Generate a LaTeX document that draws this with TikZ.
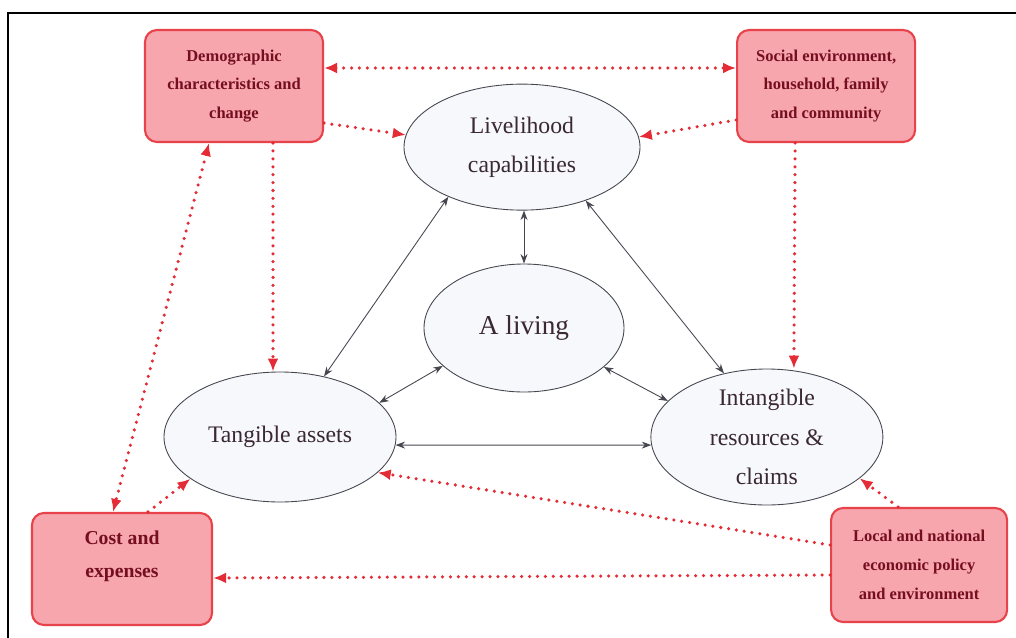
\documentclass[tikz,border=0pt]{standalone}
\usepackage{fontspec}
\setmainfont{Liberation Serif}
\usepackage{xcolor}
\usepackage{tikz}
\usetikzlibrary{shapes,arrows,positioning,calc,arrows.meta}
\definecolor{boxpink}{RGB}{246,166,172}
\definecolor{boxred}{RGB}{232,66,74}
\definecolor{dotred}{RGB}{228,44,54}
\definecolor{textred}{RGB}{118,14,34}
\definecolor{ellfill}{RGB}{246,248,251}
\definecolor{ellline}{RGB}{70,70,80}
\definecolor{elltext}{RGB}{58,40,50}

\begin{document}
\begin{tikzpicture}[auto, node distance=1.5cm,
        factor/.style={draw=boxred, fill=boxpink, line width=1.2pt, rounded corners=0.24cm, minimum width=3.56cm, minimum height=2.24cm, align=center, text=textred, font=\bfseries\fontsize{9.4}{16.4}\selectfont},
        asset/.style={ellipse, draw=ellline, fill=ellfill, line width=0.5pt, align=center, inner sep=0pt, text=elltext, font=\fontsize{13.5}{22.5}\selectfont},
        link/.style={<->, draw=ellline, line width=0.5pt},
        influence/.style={draw=dotred, line width=2pt, line cap=round, dash pattern=on 0pt off 4.5pt, >={Latex[length=2.6mm,width=2.2mm]}},
        >={Stealth[length=1.9mm,width=1.4mm]}
    ]
        \useasboundingbox (0,0) rectangle (20.32,-12.76);
        \draw[line width=1pt] (0.16,-12.76) |- (20.32,-0.26);

        \node [asset, minimum width=4cm, minimum height=2.56cm, font=\fontsize{15.5}{20}\selectfont] (living) at (10.48,-6.56) {A living};
        \node [asset, minimum width=4.72cm, minimum height=2.52cm, above=1.06cm of living, xshift=-0.04cm] (liveli) {Livelihood\\capabilities};
        \node [asset, minimum width=4.64cm, minimum height=2.6cm] (tangible) at (5.6,-8.74) {Tangible assets};
        \node [asset, minimum width=4.64cm, minimum height=2.72cm, inner ysep=-0.1cm, right=5.08cm of tangible] (intangible) {Intangible\\resources \&\\claims};

        \node [factor] (demog) at (4.68,-1.72) {Demographic\\characteristics and\\change};
        \node [factor, right=8.24cm of demog] (social) {Social environment,\\household, family\\and community};
        \node [factor, minimum width=3.6cm, font=\bfseries\fontsize{11.2}{19}\selectfont, text depth=0.6cm] (cost) at (2.44,-11.38) {Cost and\\expenses};
        \node [factor, minimum width=3.52cm, minimum height=2.28cm, right=12.34cm of cost, yshift=0.08cm] (local) {Local and national\\economic policy\\and environment};

        \draw [link] (liveli.214) -- (tangible.54);
        \draw [link] (living.north) -- (living.north |- liveli.south);
        \draw [link] (liveli.320) -- (intangible.124);
        \draw [link] (living.205) -- (tangible.19);
        \draw [link] (living.334) -- (intangible.160);
        \draw [link] (tangible.-4) -- (intangible.184);

        \draw [influence, <->] ([yshift=0.36cm]demog.east) -- ([yshift=0.36cm]social.west);
        \draw [influence, ->] ([yshift=-0.74cm]demog.east) -- (liveli.174);
        \draw [influence, ->] ([yshift=-0.68cm]social.west) -- (liveli.5);
        \draw [influence, ->] ([xshift=0.78cm]demog.south) -- ([xshift=-0.14cm]tangible.north);
        \draw [influence, ->] ([xshift=-0.62cm]social.south) -- ([xshift=0.54cm]intangible.north);
        \draw [influence, <->] ([xshift=-0.5cm]demog.south) -- ([xshift=-0.18cm]cost.north);
        \draw [influence, ->] ([xshift=0.52cm]cost.north) -- (tangible.205);
        \draw [influence, ->] ([yshift=0.4cm]local.west) -- (tangible.340);
        \draw [influence, ->] ([yshift=-0.2cm]local.west) -- ([yshift=-0.18cm]cost.east);
        \draw [influence, ->] ([xshift=-0.42cm]local.north) -- (intangible.336);

    \end{tikzpicture}
\end{document}
